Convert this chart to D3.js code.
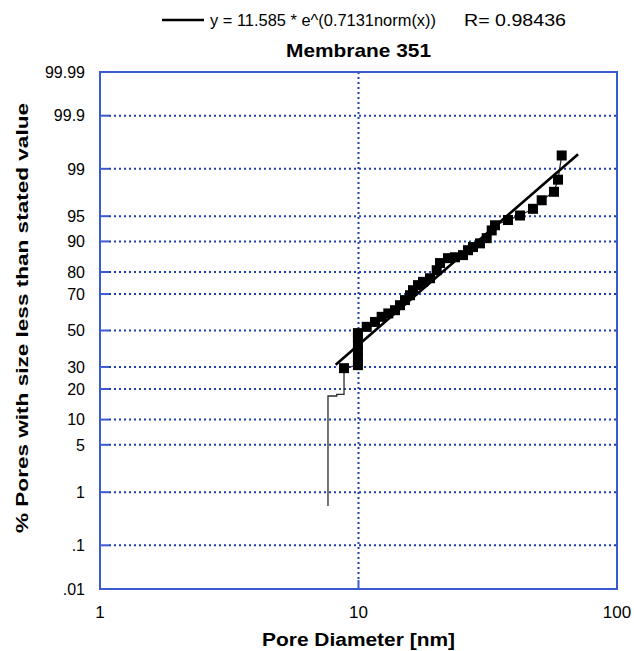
<!DOCTYPE html>
<html>
<head>
<meta charset="utf-8">
<script src="https://cdn.jsdelivr.net/npm/d3@7"></script>
<style>
  html, body { margin: 0; padding: 0; background: #fff; }
  svg { display: block; }
  text { font-family: "Liberation Sans", Arial, sans-serif; fill: #000; }
</style>
</head>
<body>
<svg id="chart" width="634" height="651"></svg>
<script>
// Pore diameters [nm] and cumulative percentages
const poreDiameter = [8.79, 9.95, 9.95, 9.95, 9.95, 9.95, 9.95,
  10.76, 11.58, 12.29, 13.04, 13.84, 14.47, 15.13, 15.82, 16.25, 16.99,
  17.77, 18.91, 20.07, 20.67, 22.19, 23.62, 25.37, 26.52, 27.73, 29.51,
  31.33, 32.76, 33.73, 37.87, 42.16, 47.32, 51.13, 57.05, 59.13, 61.10];
const percentBelow = [29.4, 30.9, 34.5, 38.3, 42.2, 46.2, 48.5,
  52.1, 54.9, 57.8, 59.7, 61.5, 64.2, 66.9, 69.4, 71.9, 74.3,
  75.8, 77.4, 80.7, 83.4, 85.1, 85.4, 86.1, 87.6, 88.5, 89.5,
  90.8, 92.5, 93.5, 94.4, 95.1, 96.0, 96.95, 97.7, 98.5, 99.41];

// Lower tail of the cumulative curve leading into the first point
const tailDiameter = [7.62, 7.62, 8.24, 8.24, 8.79];
const tailPercent = [0.58, 17.3, 17.3, 17.9, 17.9];

// Log-normal fit: d = a * exp(b * norm(p))
const fitA = 11.585;
const fitB = 0.7131;
const fitR = 0.98436;
const fitDiameterRange = [8.16, 70.7];

const yTickValues = [99.99, 99.9, 99, 95, 90, 80, 70, 50, 30, 20, 10, 5, 1, 0.1, 0.01];
const yTickLabels = ["99.99", "99.9", "99", "95", "90", "80", "70", "50", "30", "20", "10", "5", "1", ".1", ".01"];
const xTickValues = [1, 10, 100];
const xTickLabels = ["1", "10", "100"];

// Inverse standard normal CDF (Acklam's rational approximation)
function probit(p) {
  const a = [-3.969683028665376e+01, 2.209460984245205e+02, -2.759285104469687e+02,
             1.383577518672690e+02, -3.066479806614716e+01, 2.506628277459239e+00];
  const b = [-5.447609879822406e+01, 1.615858368580409e+02, -1.556989798598866e+02,
             6.680131188771972e+01, -1.328068155288572e+01];
  const c = [-7.784894002430293e-03, -3.223964580411365e-01, -2.400758277161838e+00,
             -2.549732539343734e+00, 4.374664141464968e+00, 2.938163982698783e+00];
  const d = [7.784695709041462e-03, 3.224671290700398e-01, 2.445134137142996e+00,
             3.754408661907416e+00];
  const pl = 0.02425, ph = 1 - pl;
  let q, r;
  if (p < pl) {
    q = Math.sqrt(-2 * Math.log(p));
    return (((((c[0]*q+c[1])*q+c[2])*q+c[3])*q+c[4])*q+c[5]) /
           ((((d[0]*q+d[1])*q+d[2])*q+d[3])*q+1);
  } else if (p <= ph) {
    q = p - 0.5; r = q * q;
    return (((((a[0]*r+a[1])*r+a[2])*r+a[3])*r+a[4])*r+a[5])*q /
           (((((b[0]*r+b[1])*r+b[2])*r+b[3])*r+b[4])*r+1);
  } else {
    q = Math.sqrt(-2 * Math.log(1 - p));
    return -(((((c[0]*q+c[1])*q+c[2])*q+c[3])*q+c[4])*q+c[5]) /
            ((((d[0]*q+d[1])*q+d[2])*q+d[3])*q+1);
  }
}

const svg = d3.select("#chart");
const plot = { left: 100, right: 617, top: 72, bottom: 589 };
const axisBlue = "#3a5bd0";
const gridBlue = "#1f3fae";

const x = d3.scaleLog().domain([1, 100]).range([plot.left, plot.right]);
const z = d3.scaleLinear()
  .domain([probit(0.0001), probit(0.9999)])
  .range([plot.bottom, plot.top]);
const y = pct => z(probit(pct / 100));

// Dotted grid with short solid inward ticks
const grid = svg.append("g");
yTickValues.forEach(v => {
  const yy = y(v);
  if (v === 99.99 || v === 0.01) return;
  grid.append("line")
    .attr("x1", plot.left + 9).attr("x2", plot.right)
    .attr("y1", yy).attr("y2", yy)
    .attr("stroke", gridBlue).attr("stroke-width", 2)
    .attr("stroke-dasharray", "2,3");
  grid.append("line")
    .attr("x1", plot.left).attr("x2", plot.left + 9)
    .attr("y1", yy).attr("y2", yy)
    .attr("stroke", axisBlue).attr("stroke-width", 2);
});
xTickValues.slice(1, -1).forEach(v => {
  const xx = x(v);
  grid.append("line")
    .attr("x1", xx).attr("x2", xx)
    .attr("y1", plot.top).attr("y2", plot.bottom - 9)
    .attr("stroke", gridBlue).attr("stroke-width", 2)
    .attr("stroke-dasharray", "2,3");
  grid.append("line")
    .attr("x1", xx).attr("x2", xx)
    .attr("y1", plot.bottom - 9).attr("y2", plot.bottom)
    .attr("stroke", axisBlue).attr("stroke-width", 2);
});

// Plot frame
svg.append("rect")
  .attr("x", plot.left).attr("y", plot.top)
  .attr("width", plot.right - plot.left).attr("height", plot.bottom - plot.top)
  .attr("fill", "none").attr("stroke", axisBlue).attr("stroke-width", 2);

// Tick labels
svg.append("g").selectAll("text")
  .data(yTickValues)
  .join("text")
  .attr("x", plot.left - 15)
  .attr("y", d => y(d))
  .attr("dy", "0.36em")
  .attr("text-anchor", "end")
  .attr("font-size", 16)
  .text((d, i) => yTickLabels[i]);

svg.append("g").selectAll("text")
  .data(xTickValues)
  .join("text")
  .attr("x", d => x(d))
  .attr("y", 618)
  .attr("text-anchor", "middle")
  .attr("font-size", 17)
  .text((d, i) => xTickLabels[i]);

// Cumulative curve (thin) through the tail and every point
const curve = tailDiameter.map((d, i) => [d, tailPercent[i]])
  .concat(poreDiameter.map((d, i) => [d, percentBelow[i]]));
svg.append("path")
  .datum(curve)
  .attr("fill", "none")
  .attr("stroke", "#2a2a2a")
  .attr("stroke-width", 1.3)
  .attr("d", d3.line().x(d => x(d[0])).y(d => y(d[1])));

// Fitted log-normal line
const fitPts = fitDiameterRange.map(d => [x(d), z(Math.log(d / fitA) / fitB)]);
svg.append("path")
  .datum(fitPts)
  .attr("fill", "none")
  .attr("stroke", "#000")
  .attr("stroke-width", 2.6)
  .attr("d", d3.line());

// Data squares
const sq = 10;
svg.append("g").selectAll("rect")
  .data(poreDiameter)
  .join("rect")
  .attr("x", d => x(d) - sq / 2)
  .attr("y", (d, i) => y(percentBelow[i]) - sq / 2)
  .attr("width", sq).attr("height", sq)
  .attr("fill", "#000");

// Legend
svg.append("line")
  .attr("x1", 162).attr("x2", 204)
  .attr("y1", 20).attr("y2", 20)
  .attr("stroke", "#000").attr("stroke-width", 2.6);
svg.append("text")
  .attr("x", 210).attr("y", 26)
  .attr("font-size", 16)
  .attr("textLength", 226).attr("lengthAdjust", "spacingAndGlyphs")
  .text(`y = ${fitA} * e^(${fitB}norm(x))`);
svg.append("text")
  .attr("x", 464).attr("y", 26)
  .attr("font-size", 16)
  .attr("textLength", 102).attr("lengthAdjust", "spacingAndGlyphs")
  .text(`R= ${fitR}`);

// Titles
svg.append("text")
  .attr("x", (plot.left + plot.right) / 2).attr("y", 57)
  .attr("text-anchor", "middle")
  .attr("font-size", 19).attr("font-weight", "bold")
  .attr("textLength", 145).attr("lengthAdjust", "spacingAndGlyphs")
  .text("Membrane 351");

svg.append("text")
  .attr("x", (plot.left + plot.right) / 2).attr("y", 646)
  .attr("text-anchor", "middle")
  .attr("font-size", 18).attr("font-weight", "bold")
  .attr("textLength", 193).attr("lengthAdjust", "spacingAndGlyphs")
  .text("Pore Diameter [nm]");

svg.append("text")
  .attr("transform", "translate(28,318) rotate(-90)")
  .attr("text-anchor", "middle")
  .attr("font-size", 17).attr("font-weight", "bold")
  .attr("textLength", 430).attr("lengthAdjust", "spacingAndGlyphs")
  .text("% Pores with size less than stated value");
</script>
</body>
</html>
